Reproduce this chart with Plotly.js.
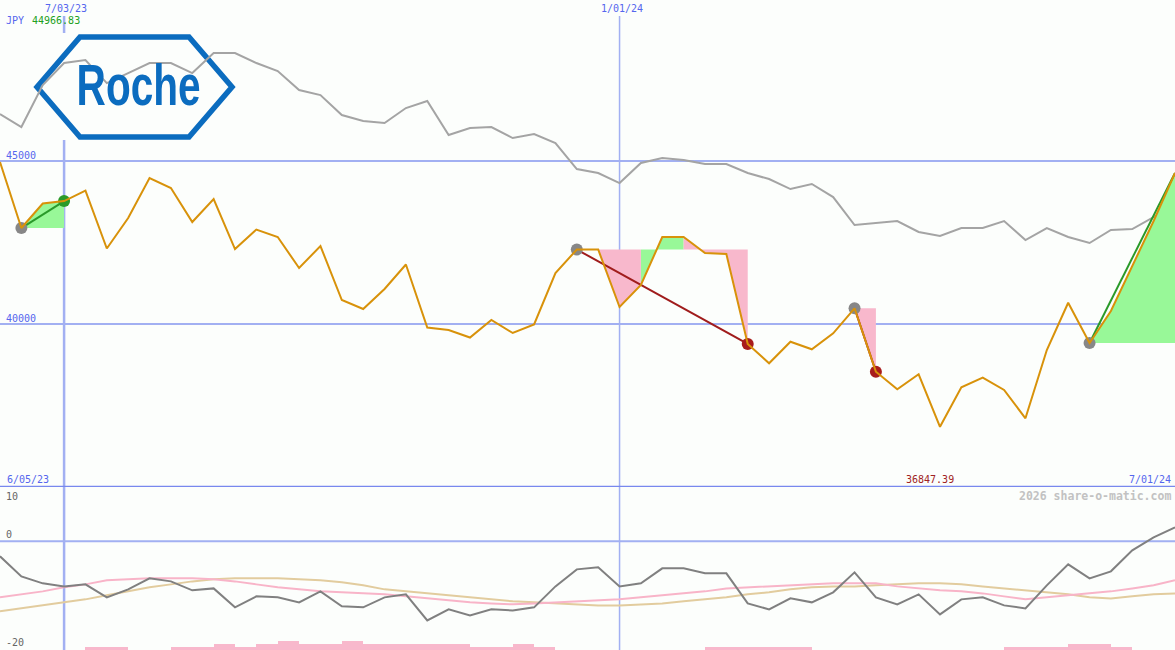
<!DOCTYPE html>
<html><head><meta charset="utf-8">
<script src="https://cdn.plot.ly/plotly-3.0.1.min.js"></script>
<style>html,body{margin:0;padding:0;background:#fcfefc;}#chart{width:1175px;height:650px;}</style>
</head><body><div id="chart"></div>
<script>
// ---- data (weekly) ----
const dates = ['2023-06-12','2023-06-19','2023-06-26','2023-07-03','2023-07-10','2023-07-17','2023-07-24','2023-07-31','2023-08-07','2023-08-14',
'2023-08-21','2023-08-28','2023-09-04','2023-09-11','2023-09-18','2023-09-25','2023-10-02','2023-10-09','2023-10-16','2023-10-23',
'2023-10-30','2023-11-06','2023-11-13','2023-11-20','2023-11-27','2023-12-04','2023-12-11','2023-12-18','2023-12-25','2024-01-01',
'2024-01-08','2024-01-15','2024-01-22','2024-01-29','2024-02-05','2024-02-12','2024-02-19','2024-02-26','2024-03-04','2024-03-11',
'2024-03-18','2024-03-25','2024-04-01','2024-04-08','2024-04-15','2024-04-22','2024-04-29','2024-05-06','2024-05-13','2024-05-20',
'2024-05-27','2024-06-03','2024-06-10','2024-06-17','2024-06-24','2024-07-01'];
const price = [44966.83,42944,43696,43772,44094,42316,43251,44478,44171,43128,
43834,42300,42898,42668,41718,42392,40736,40460,41073,41825,
39893,39816,39586,40123,39724,39985,41564,42285,42285,40521,
41196,42668,42668,42178,42147,39387,38795,39457,39224,39715,
40482,38537,37997,38457,36847.39,38059,38353,37976,37108,39203,
40653,39417,40399,41779,43159,44632];
const compare = [46441,46042,47330,48005,48097,47391,47698,48005,48005,47698,
48312,48312,48005,47760,47177,47023,46410,46226,46165,46625,
46839,45797,46011,46042,45705,45827,45551,44754,44631,44324,
44938,45091,45030,44907,44907,44631,44447,44140,44294,43895,
43036,43098,43159,42822,42699,42944,42944,43159,42576,42944,
42668,42484,42883,42914,43282,43650];
const momentum = [-2.76,-6.45,-7.73,-8.29,-7.92,-10.31,-8.84,-6.81,-7.37,-9.02,
-8.66,-12.15,-10.13,-10.31,-11.23,-9.21,-11.97,-12.15,-10.31,-9.76,
-14.55,-12.52,-13.63,-12.52,-12.71,-12.15,-8.29,-5.16,-4.79,-8.29,
-7.73,-4.97,-4.97,-5.89,-5.89,-11.42,-12.52,-10.50,-11.23,-9.39,
-5.71,-10.31,-11.60,-9.76,-13.44,-10.68,-10.31,-11.79,-12.34,-8.10,
-4.24,-6.81,-5.52,-1.66,0.74,2.58];
const avgFast = [-10.31,-9.76,-9.21,-8.47,-7.92,-7.18,-7.00,-6.81,-6.81,-6.81,
-7.00,-7.37,-7.92,-8.47,-8.84,-9.21,-9.39,-9.58,-9.76,-10.13,
-10.50,-10.87,-11.23,-11.42,-11.60,-11.42,-11.23,-11.05,-10.87,-10.68,
-10.31,-9.94,-9.58,-9.21,-8.66,-8.47,-8.29,-8.10,-7.92,-7.73,
-7.73,-7.73,-8.29,-8.66,-9.02,-9.21,-9.58,-10.13,-10.68,-10.31,
-9.94,-9.58,-9.21,-8.66,-8.10,-7.18];
const avgSlow = [-12.89,-12.34,-11.79,-11.23,-10.68,-9.94,-9.21,-8.47,-7.92,-7.37,
-7.00,-6.81,-6.81,-6.81,-7.00,-7.18,-7.55,-8.10,-8.84,-9.21,
-9.58,-9.94,-10.31,-10.68,-11.05,-11.23,-11.42,-11.60,-11.79,-11.79,
-11.60,-11.42,-11.05,-10.68,-10.31,-9.76,-9.39,-8.84,-8.47,-8.29,
-8.29,-8.10,-7.92,-7.73,-7.73,-7.92,-8.29,-8.66,-9.02,-9.39,
-9.76,-10.31,-10.50,-10.13,-9.76,-9.58];
const volume = [0,0,0,0,0.55,0.55,0,0,0.55,0.55,
1.1,0.55,1.1,1.65,1.1,1.1,1.65,1.1,1.1,1.1,
1.1,1.1,0.55,0.55,1.1,0.55,0,0,0,0,
0,0,0,0.55,0.55,0.55,0.55,0.55,0,0,
0,0,0,0,0,0,0,0.55,0.55,0.55,
1.1,1.1,0.55,0,0,0];
const tradeStart = [1,27,40,51];
const tradeEnd = [3,35,41,55];
const tradeClosed = [true,true,true,false];
const priceGrid = [45000,40000];
const priceGridLabels = ['45000','40000'];
const dateLines = ['2023-07-03','2024-01-01'];
const dateLineLabels = ['7/03/23','1/01/24'];
const lowerLabels = ['10','0','-20'];
const currency = 'JPY';
const maxLabel = '44966.83';
const minLabel = '36847.39';
const startLabel = '6/05/23';
const endLabel = '7/01/24';
const credit = '2026 share-o-matic.com';
const logoText = 'Roche';

// ---- style ----
const W = 1175, H = 650;
const px = x => x / W, py = y => 1 - y / H;
const GREEN = '#98f898', PINK = '#f8b8cc', BLUE = '#5566ee';
const MONO = 'DejaVu Sans Mono';
const WEEK = 7 * 24 * 3600 * 1000;

const gx = [], gy = [], rx = [], ry = [];
const traces = [];
traces.push({x: dates, y: compare, type: 'scatter', mode: 'lines', line: {color: '#a4a4a4', width: 2}, yaxis: 'y'});
tradeStart.forEach((s, t) => {
  const e = tradeEnd[t], base = price[s];
  for (let i = s; i < e; i++) {
    const up = price[i + 1] >= base;
    const X = up ? gx : rx, Y = up ? gy : ry;
    X.push(dates[i], dates[i], dates[i + 1], dates[i + 1], null);
    Y.push(base, price[i], price[i + 1], base, null);
  }
});
traces.push({x: gx, y: gy, type: 'scatter', mode: 'lines', fill: 'toself', fillcolor: GREEN, line: {width: 0, color: GREEN}, connectgaps: false, yaxis: 'y'});
traces.push({x: rx, y: ry, type: 'scatter', mode: 'lines', fill: 'toself', fillcolor: PINK, line: {width: 0, color: PINK}, connectgaps: false, yaxis: 'y'});
// trend lines
tradeStart.forEach((s, t) => {
  const e = tradeEnd[t];
  traces.push({x: [dates[s], dates[e]], y: [price[s], price[e]], type: 'scatter', mode: 'lines',
    line: {color: price[e] >= price[s] ? '#2a9a2a' : '#a01c1c', width: 2}, yaxis: 'y'});
});
// dots
traces.push({x: tradeStart.map(i => dates[i]), y: tradeStart.map(i => price[i]), type: 'scatter', mode: 'markers',
  marker: {size: 12, color: '#878787', line: {width: 0}}, yaxis: 'y'});
const closedIdx = tradeStart.map((s, t) => t).filter(t => tradeClosed[t]);
traces.push({x: closedIdx.map(t => dates[tradeEnd[t]]), y: closedIdx.map(t => price[tradeEnd[t]]), type: 'scatter', mode: 'markers',
  marker: {size: 12, color: closedIdx.map(t => price[tradeEnd[t]] >= price[tradeStart[t]] ? '#2a9a2a' : '#a81c1c'), line: {width: 0}}, yaxis: 'y'});
// price line
traces.push({x: dates, y: price, type: 'scatter', mode: 'lines', line: {color: '#d8920a', width: 2}, yaxis: 'y'});
// lower panel
traces.push({x: dates, y: volume, base: -20, type: 'bar', offset: 0, width: WEEK, marker: {color: PINK, line: {width: 0}}, yaxis: 'y2'});
traces.push({x: dates, y: avgSlow, type: 'scatter', mode: 'lines', line: {color: '#e2cc9e', width: 2}, yaxis: 'y2'});
traces.push({x: dates, y: avgFast, type: 'scatter', mode: 'lines', line: {color: '#f8b4c8', width: 2}, yaxis: 'y2'});
traces.push({x: dates, y: momentum, type: 'scatter', mode: 'lines', line: {color: '#808080', width: 2}, yaxis: 'y2'});

const shapes = [];
priceGrid.forEach(v => shapes.push({type: 'line', layer: 'below', xref: 'paper', x0: 0, x1: 1, yref: 'y', y0: v, y1: v, line: {color: '#a2b0f2', width: 2}}));
shapes.push({type: 'line', layer: 'below', xref: 'paper', x0: 0, x1: 1, yref: 'y2', y0: 0, y1: 0, line: {color: '#a2b0f2', width: 2}});
dateLines.forEach((d, k) => shapes.push({type: 'line', layer: 'below', xref: 'x', x0: d, x1: d, yref: 'paper', y0: 0, y1: py(16), line: {color: '#a2b0f2', width: k === 0 ? 2.5 : 1.5}}));
shapes.push({type: 'line', layer: 'below', xref: 'paper', x0: 0, x1: 1, yref: 'y', y0: 35000, y1: 35000, line: {color: '#7888ee', width: 2.5}});
shapes.push({type: 'rect', layer: 'below', xref: 'paper', yref: 'paper', x0: px(33), x1: px(238), y0: py(140), y1: py(33), fillcolor: '#fcfefc', line: {width: 0}});
const hex = [[37,87],[80,37],[189,37],[232,87],[189,137],[80,137]];
shapes.push({type: 'path', layer: 'below', xref: 'paper', yref: 'paper',
  path: 'M' + hex.map(p => px(p[0]) + ',' + py(p[1])).join(' L') + ' Z', line: {color: '#0b6cbf', width: 5.5}});

const ann = [];
const A = (text, x, y, color, anchor, size, extra) => ann.push(Object.assign({text, xref: 'paper', yref: 'paper', x: px(x), y: py(y),
  xanchor: anchor || 'left', yanchor: 'middle', showarrow: false, borderpad: 0,
  font: {family: MONO, size: size || 10, color}}, extra || {}));
dateLines.forEach((d, k) => ann.push({text: dateLineLabels[k], xref: 'x', x: d, yref: 'paper', y: py(9), xanchor: 'center', yanchor: 'middle',
  xshift: 2, showarrow: false, borderpad: 0, font: {family: MONO, size: 10, color: BLUE}}));
A(currency, 5, 21, BLUE);
A(maxLabel, 31, 21, '#22a022');
priceGrid.forEach((v, k) => ann.push({text: priceGridLabels[k], xref: 'paper', x: px(5), yref: 'y', y: v, yshift: 6, xanchor: 'left', yanchor: 'middle', showarrow: false, borderpad: 0, font: {family: MONO, size: 10, color: BLUE}}));
A(startLabel, 6, 479, BLUE);
A(endLabel, 1172, 479, BLUE, 'right');
A(minLabel, 930, 479, '#a02222', 'center');
A(credit, 1172, 496, '#c4c4c4', 'right', 11.5, {font: {family: MONO, size: 11.5, color: '#c2c2c2', weight: 'bold'}});
A(lowerLabels[0], 5, 496, '#666666');
A(lowerLabels[1], 5, 534, '#666666');
A(lowerLabels[2], 5, 642, '#666666');
ann.push({text: logoText, xref: 'paper', yref: 'paper', x: px(138), y: py(85), xanchor: 'center', yanchor: 'middle', showarrow: false, borderpad: 0,
  font: {family: 'Liberation Sans', size: 58, color: '#0b6cbf', weight: 'bold'}});

const layout = {
  width: W, height: H, margin: {l: 0, r: 0, t: 0, b: 0},
  paper_bgcolor: '#fcfefc', plot_bgcolor: 'rgba(0,0,0,0)',
  showlegend: false, hovermode: false, bargap: 0,
  xaxis: {type: 'date', range: [dates[0], dates[dates.length - 1]], visible: false, fixedrange: true},
  yaxis: {domain: [163 / H, 1], range: [35000, 49939], visible: false, fixedrange: true},
  yaxis2: {domain: [0, 163 / H], range: [-20, 10], visible: false, fixedrange: true},
  shapes, annotations: ann
};
Plotly.newPlot('chart', traces, layout, {displayModeBar: false, staticPlot: true}).then(() => {
  document.querySelectorAll('.annotation-text').forEach(el => {
    if (el.textContent === logoText) {
      el.style.transformBox = 'fill-box';
      el.style.transformOrigin = 'center';
      el.style.transform = 'scaleX(0.7)';
    }
  });
});
</script></body></html>
